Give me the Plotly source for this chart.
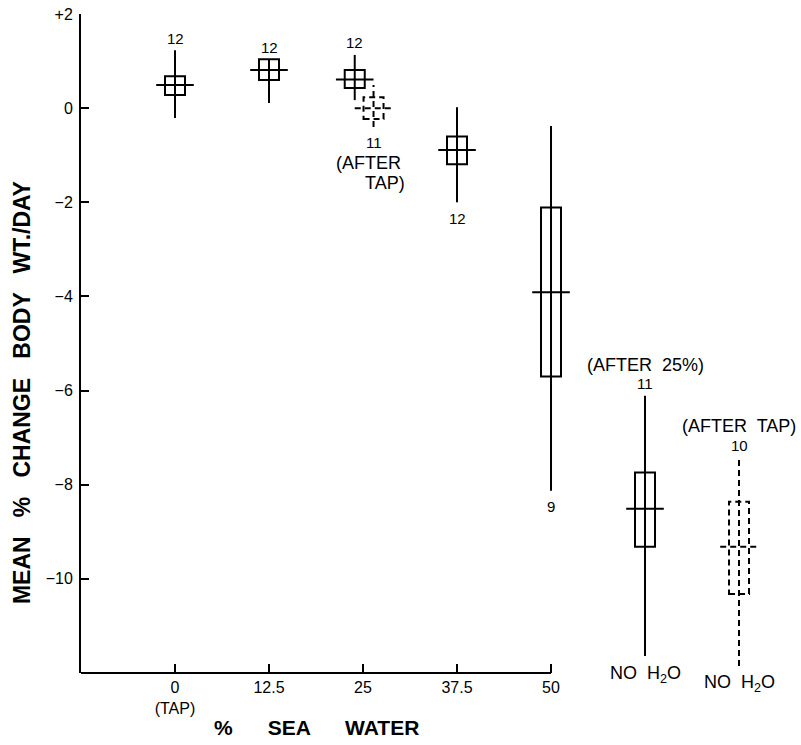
import plotly.graph_objects as go

# ---- data ----
positions = [0, 12.5, 23.9, 26.4, 37.5, 50, 62.5, 75]
means     = [0.49, 0.81, 0.61, 0.00, -0.89, -3.91, -8.51, -9.32]
box_hi    = [0.68, 1.04, 0.81, 0.23, -0.60, -2.11, -7.74, -8.36]
box_lo    = [0.28, 0.60, 0.43, -0.23, -1.19, -5.70, -9.32, -10.32]
range_hi  = [1.23, 1.04, 1.13, 0.49, 0.02, -0.38, -6.11, -7.43]
range_lo  = [-0.21, 0.11, 0.17, -0.40, -2.00, -8.13, -11.64, -11.85]
dashed    = [False, False, False, True, False, False, False, True]
n_labels  = ["12", "12", "12", "11", "12", "9", "11", "10"]
n_above   = [True, True, True, False, False, False, True, True]

x_tickvals = [0, 12.5, 25, 37.5, 50]
x_ticktext = ["0<br>(TAP)", "12.5", "25", "37.5", "50"]
y_tickvals = [2, 0, -2, -4, -6, -8, -10]
y_ticktext = ["+2", "0", "\u22122", "\u22124", "\u22126", "\u22128", "\u221210"]

X_RANGE = [-12.5, 81.78]
Y_RANGE = [-12, 2]

FONT = "Liberation Sans, Arial, Helvetica, sans-serif"
BOX_HALF = 1.33   # half box width in x units
MEAN_HALF = 2.5   # half mean-line width in x units
LW = 2

fig = go.Figure()
# invisible trace to establish axes
fig.add_trace(go.Scatter(x=positions, y=means, mode="markers",
                         marker=dict(opacity=0), hoverinfo="skip", showlegend=False))

shapes = []
for i, x in enumerate(positions):
    dash = "6px,4px" if dashed[i] else "solid"
    line = dict(color="black", width=LW, dash=dash)
    shapes.append(dict(type="line", xref="x", yref="y", x0=x, x1=x,
                       y0=range_lo[i], y1=range_hi[i], line=line))
    shapes.append(dict(type="rect", xref="x", yref="y", x0=x - BOX_HALF, x1=x + BOX_HALF,
                       y0=box_lo[i], y1=box_hi[i], line=line, fillcolor="rgba(0,0,0,0)"))
    shapes.append(dict(type="line", xref="x", yref="y", x0=x - MEAN_HALF, x1=x + MEAN_HALF,
                       y0=means[i], y1=means[i], line=line))

# x axis line only up to the last tick
shapes.append(dict(type="line", xref="x", yref="paper", x0=X_RANGE[0], x1=x_tickvals[-1],
                   y0=0, y1=0, line=dict(color="black", width=LW)))

annotations = []
num_font = dict(family=FONT, size=15, color="black")
word_font = dict(family=FONT, size=18, color="black")
for i, x in enumerate(positions):
    if n_above[i]:
        annotations.append(dict(x=x, y=range_hi[i], xref="x", yref="y", text=n_labels[i],
                                showarrow=False, yanchor="middle", yshift=12, font=num_font))
    else:
        annotations.append(dict(x=x, y=range_lo[i], xref="x", yref="y", text=n_labels[i],
                                showarrow=False, yanchor="middle", yshift=-16, font=num_font))

# extra notes
i_at = positions.index(26.4)
annotations.append(dict(x=positions[i_at], y=range_lo[i_at], xref="x", yref="y", text="(AFTER",
                        showarrow=False, yanchor="middle", yshift=-36, xshift=-5, font=word_font))
annotations.append(dict(x=positions[i_at], y=range_lo[i_at], xref="x", yref="y", text="TAP)",
                        showarrow=False, yanchor="middle", yshift=-56, xshift=11, font=word_font))
i_25 = positions.index(62.5)
annotations.append(dict(x=positions[i_25], y=range_hi[i_25], xref="x", yref="y", text="(AFTER  25%)",
                        showarrow=False, yanchor="middle", yshift=31, font=word_font))
i_tap = positions.index(75)
annotations.append(dict(x=positions[i_tap], y=range_hi[i_tap], xref="x", yref="y", text="(AFTER  TAP)",
                        showarrow=False, yanchor="middle", yshift=32, font=word_font))
for idx in (i_25, i_tap):
    annotations.append(dict(x=positions[idx], y=range_lo[idx], xref="x", yref="y",
                            text="NO  H<sub>2</sub>O", showarrow=False, yanchor="middle",
                            yshift=-18, font=word_font))

# axis titles
annotations.append(dict(x=(X_RANGE[0] + x_tickvals[-1]) / 2, y=-0.082, xref="x", yref="paper",
                        text="<b>%      SEA      WATER</b>", showarrow=False, yanchor="middle",
                        font=dict(family=FONT, size=21, color="black")))
annotations.append(dict(x=-0.083, y=0.425, xref="paper", yref="paper", textangle=-90,
                        text="<b>MEAN   %   CHANGE   BODY   WT./DAY</b>", showarrow=False,
                        xanchor="center", yanchor="middle",
                        font=dict(family=FONT, size=23, color="black")))

fig.update_layout(
    width=801, height=745,
    margin=dict(l=81, r=11, t=14, b=72, autoexpand=False),
    paper_bgcolor="white", plot_bgcolor="white",
    showlegend=False,
    shapes=shapes, annotations=annotations,
    font=dict(family=FONT, size=15, color="black"),
)
fig.update_xaxes(range=X_RANGE, showgrid=False, zeroline=False, showline=False,
                 automargin=False, ticklabeloverflow="allow",
                 tickmode="array", tickvals=x_tickvals, ticktext=x_ticktext,
                 ticks="inside", ticklen=9, tickwidth=2, tickcolor="black",
                 ticklabelstandoff=3,
                 tickfont=dict(family=FONT, size=16, color="black"))
fig.update_yaxes(range=Y_RANGE, showgrid=False, zeroline=False, showline=True,
                 automargin=False, ticklabeloverflow="allow",
                 linecolor="black", linewidth=LW,
                 tickmode="array", tickvals=y_tickvals, ticktext=y_ticktext,
                 ticks="inside", ticklen=8, tickwidth=2, tickcolor="black",
                 ticklabelstandoff=3,
                 tickfont=dict(family=FONT, size=16, color="black"))

# remove the browser's default 8px body margin so the figure fills the window exactly
fig.write_html("out.html",
               config={"displayModeBar": False},
               post_script="document.body.style.margin='0px';document.body.style.overflow='hidden';")
